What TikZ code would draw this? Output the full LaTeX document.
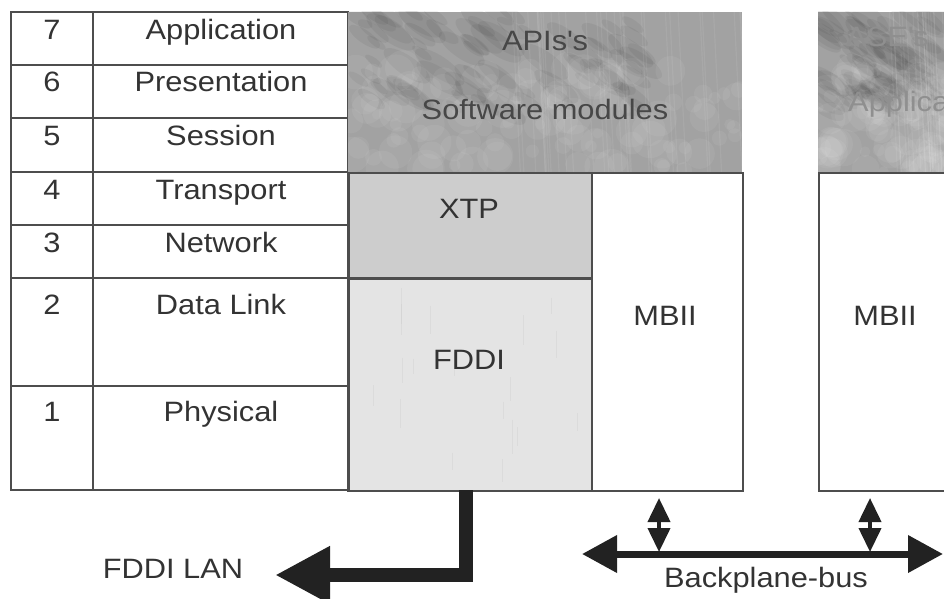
\documentclass[tikz,border=0pt]{standalone}
\usepackage{fontspec}
\setmainfont{Liberation Sans}[FakeStretch=1.1]
\usetikzlibrary{arrows.meta}

\definecolor{ink}{HTML}{333333}
\definecolor{rule}{HTML}{4D4D4D}
\definecolor{xtpfill}{HTML}{CDCDCD}
\definecolor{fddifill}{HTML}{E4E4E4}
\definecolor{texbase}{HTML}{A2A2A2}
\definecolor{arrowink}{HTML}{222222}

% cloudy texture of the software-module blocks: corners (x1,y1) (x2,y2)
\newcommand{\cloudtexture}[4]{%
  \begin{scope}
    \clip (#1,#2) rectangle (#3,#4);
    \fill[texbase] (#1,#2) rectangle (#3,#4);
    \foreach \i in {1,...,80}{
      \pgfmathsetmacro\px{#1+(#3-#1)*0.75*rnd}
      \pgfmathsetmacro\py{#2+(#4-#2)*0.6*rnd}
      \pgfmathsetmacro\pr{8+22*rnd}
      \fill[black, opacity=0.05, rotate around={-35:(\px,\py)}]
        (\px,\py) ellipse[x radius=\pr pt, y radius=0.35*\pr pt];
    }
    \foreach \i in {1,...,120}{
      \pgfmathsetmacro\px{#1+(#3-#1)*rnd}
      \pgfmathsetmacro\py{#2+(#4-#2)*(0.35+0.65*rnd)}
      \pgfmathsetmacro\pr{5+14*rnd}
      \fill[white, opacity=0.06] (\px,\py) circle[radius=\pr pt];
    }
    \foreach \i in {1,...,30}{
      \pgfmathsetmacro\px{#1+(#3-#1)*(0.4+0.6*rnd)}
      \draw[white, opacity=0.07, line width=1.2pt] (\px,#2) -- (\px+8,#4);
    }
  \end{scope}}

\begin{document}
\begin{tikzpicture}[x=1pt,y=-1pt,
  lbl/.style={text=ink, font=\fontsize{28}{30}\selectfont, inner sep=0pt, anchor=base},
  frame/.style={draw=rule, line width=1.5pt},
  boxcell/.style={frame, inner sep=0pt, anchor=north west},
  fat/.style={draw=arrowink, line width=14pt, line join=miter,
    -{Triangle[length=55pt,width=54pt]}},
  bus/.style={draw=arrowink, line width=7pt,
    {Triangle[length=35pt,width=36pt]}-{Triangle[length=35pt,width=36pt]}},
  tap/.style={draw=arrowink, line width=4pt,
    {Triangle[length=24pt,width=22pt]}-{Triangle[length=24pt,width=22pt]}}
]
\useasboundingbox (0,0) rectangle (944,599);
\clip (0,0) rectangle (944,599);
\pgfmathsetseed{42}

% ---------- OSI layer table ----------
\draw[frame] (11,12) rectangle (348,490);
\draw[frame] (93,12) -- (93,490);
\foreach \y in {65,118,172,225,278,386}
  \draw[frame] (11,\y) -- (348,\y);

\node[lbl] (n7) at (52,40)  {7};
\node[lbl] (n6) at (52,92)  {6};
\node[lbl] (n5) at (52,146) {5};
\node[lbl] (n4) at (52,199) {4};
\node[lbl] (n3) at (52,252) {3};
\node[lbl] (n2) at (52,314) {2};
\node[lbl] (n1) at (52,421) {1};

\node[lbl] (l7) at (221,40)  {Application};
\node[lbl] (l6) at (221,92)  {Presentation};
\node[lbl] (l5) at (221,146) {Session};
\node[lbl] (l4) at (221,199) {Transport};
\node[lbl] (l3) at (221,252) {Network};
\node[lbl] (l2) at (221,314) {Data Link};
\node[lbl] (l1) at (221,421) {Physical};

% ---------- first station stack ----------
\cloudtexture{348}{12}{742}{172}
\node[inner sep=0pt, anchor=north west, minimum width=394pt, minimum height=160pt] (swA) at (348,12) {};
\node[lbl, text=ink!90] (apis) at (545,51)  {APIs\textquotesingle s};
\node[lbl, text=ink!90] (swmod) at (545,120) {Software modules};

\node[boxcell, fill=xtpfill, minimum width=243pt, minimum height=106pt] (xtp) at (348,172) {};
\node[boxcell, fill=fddifill, minimum width=243pt, minimum height=212pt] (fddi) at (348,278) {};
\begin{scope}
  \clip (349,279) rectangle (590,489);
  \foreach \i in {1,...,18}{
    \pgfmathsetmacro\px{352+234*rnd}
    \pgfmathsetmacro\py{285+180*rnd}
    \draw[gray!40, opacity=0.35, line width=0.8pt] (\px,\py) -- (\px,\py+15+30*rnd);
  }
\end{scope}
\draw[frame] (fddi.north west) rectangle (fddi.south east);
\node[boxcell, fill=white, minimum width=151pt, minimum height=318pt] (mbA) at (591,172) {};

\node[lbl] (xtplbl)  at (469,218) {XTP};
\node[lbl] (fddilbl) at (469,369) {FDDI};
\node[lbl] (mbAlbl)  at (665,325) {MBII};

% ---------- second station stack (partly shown) ----------
\cloudtexture{818}{12}{980}{172}
\node[inner sep=0pt, anchor=north west, minimum width=162pt, minimum height=160pt] (swB) at (818,12) {};
\node[lbl, anchor=base west, text=ink!55] (ases) at (846,47)  {ASE\textquotesingle s};
\node[lbl, anchor=base west, text=ink!55] (appB) at (848,112) {Application};
\node[boxcell, fill=white, minimum width=160pt, minimum height=318pt] (mbB) at (818,172) {};
\node[lbl] (mbBlbl) at (885,325) {MBII};

% ---------- connections ----------
\coordinate (lanstart) at (466,490);
\coordinate (lanend)   at (275,575);
\draw[fat] (lanstart) -- (466,575) -- (lanend);
\node[lbl] (lan) at (173,578) {FDDI LAN};

\coordinate (busL) at (582,554);
\coordinate (busR) at (943,554);
\draw[bus] (busL) -- (busR);
\node[lbl] (buslbl) at (766,587) {Backplane-bus};

\coordinate (tapAtop) at (659,498);
\coordinate (tapAbot) at (659,552);
\coordinate (tapBtop) at (870,498);
\coordinate (tapBbot) at (870,552);
\draw[tap] (tapAtop) -- (tapAbot);
\draw[tap] (tapBtop) -- (tapBbot);
\end{tikzpicture}
\end{document}
